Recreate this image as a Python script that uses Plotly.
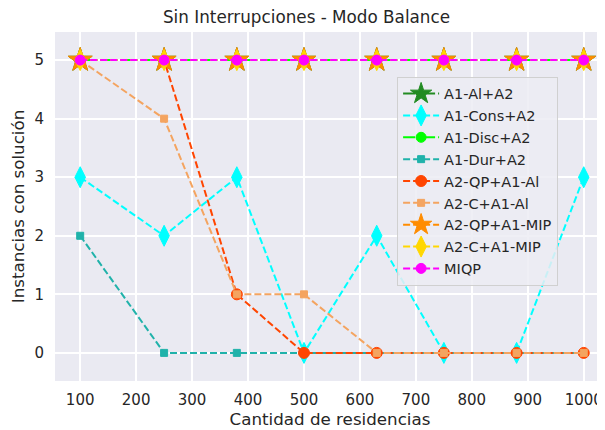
import plotly.graph_objects as go

residencias = [100, 250, 380, 500, 630, 750, 880, 1000]

a1_al_a2 = [5, 5, 5, 5, 5, 5, 5, 5]
a1_cons_a2 = [3, 2, 3, 0, 2, 0, 0, 3]
a1_disc_a2 = [5, 5, 5, 5, 5, 5, 5, 5]
a1_dur_a2 = [2, 0, 0, 0, 0, 0, 0, 0]
a2_qp_a1_al = [5, 5, 1, 0, 0, 0, 0, 0]
a2_c_a1_al = [5, 4, 1, 1, 0, 0, 0, 0]
a2_qp_a1_mip = [5, 5, 5, 5, 5, 5, 5, 5]
a2_c_a1_mip = [5, 5, 5, 5, 5, 5, 5, 5]
miqp = [5, 5, 5, 5, 5, 5, 5, 5]

DASH = "7px,3px"
DASHDOT = "12px,3px,2px,3px"

series = [
    ("A1-Al+A2", a1_al_a2, "forestgreen", "star", 18, DASHDOT),
    ("A1-Cons+A2", a1_cons_a2, "cyan", "diamond-tall", 15, DASH),
    ("A1-Disc+A2", a1_disc_a2, "lime", "circle", 10, DASHDOT),
    ("A1-Dur+A2", a1_dur_a2, "lightseagreen", "square", 7, DASH),
    ("A2-QP+A1-Al", a2_qp_a1_al, "orangered", "circle", 11, DASH),
    ("A2-C+A1-Al", a2_c_a1_al, "sandybrown", "square", 7, DASH),
    ("A2-QP+A1-MIP", a2_qp_a1_mip, "darkorange", "star", 18, DASH),
    ("A2-C+A1-MIP", a2_c_a1_mip, "gold", "diamond-tall", 15, DASH),
    ("MIQP", miqp, "magenta", "circle", 10, DASH),
]

fig = go.Figure()
for name, vals, color, sym, size, dash in series:
    fig.add_trace(go.Scatter(
        x=residencias, y=vals, name=name, mode="lines+markers",
        line=dict(color=color, width=2, dash=dash),
        marker=dict(symbol=sym, size=size, color=color,
                    line=dict(width=1, color=color)),
    ))

txt = "#262626"
fig.update_layout(
    width=597, height=422,
    margin=dict(l=47, r=0, t=24, b=49),
    paper_bgcolor="white",
    plot_bgcolor="#EAEAF2",
    font=dict(family="DejaVu Sans", color=txt, size=15),
    title=dict(text="Sin Interrupciones - Modo Balance", x=0.5, xanchor="center",
               y=1 - 9.5 / 422, yanchor="middle", font=dict(size=16.8, color=txt)),
    showlegend=True,
    legend=dict(x=0.622, y=0.872, xanchor="left", yanchor="top",
                bgcolor="rgba(236,236,243,0.85)", bordercolor="#d0d0d0", borderwidth=1,
                itemwidth=36,
                font=dict(size=14.5, color=txt)),
    xaxis=dict(range=[55, 1038], tickvals=[100, 200, 300, 400, 500, 600, 700, 800, 900, 1000],
               showgrid=True, gridcolor="white", gridwidth=1.5, zeroline=False,
               ticks="", ticklabelstandoff=8, automargin=False,
               title=dict(text="Cantidad de residencias", font=dict(size=16.7), standoff=5),
               tickfont=dict(size=15)),
    yaxis=dict(range=[-0.48, 5.48], tickvals=[0, 1, 2, 3, 4, 5],
               showgrid=True, gridcolor="white", gridwidth=1.5, zeroline=False,
               ticks="", ticklabelstandoff=10, automargin=False,
               title=dict(text="Instancias con solución", font=dict(size=16.7), standoff=6),
               tickfont=dict(size=15)),
)

fig.write_html("out.html")
